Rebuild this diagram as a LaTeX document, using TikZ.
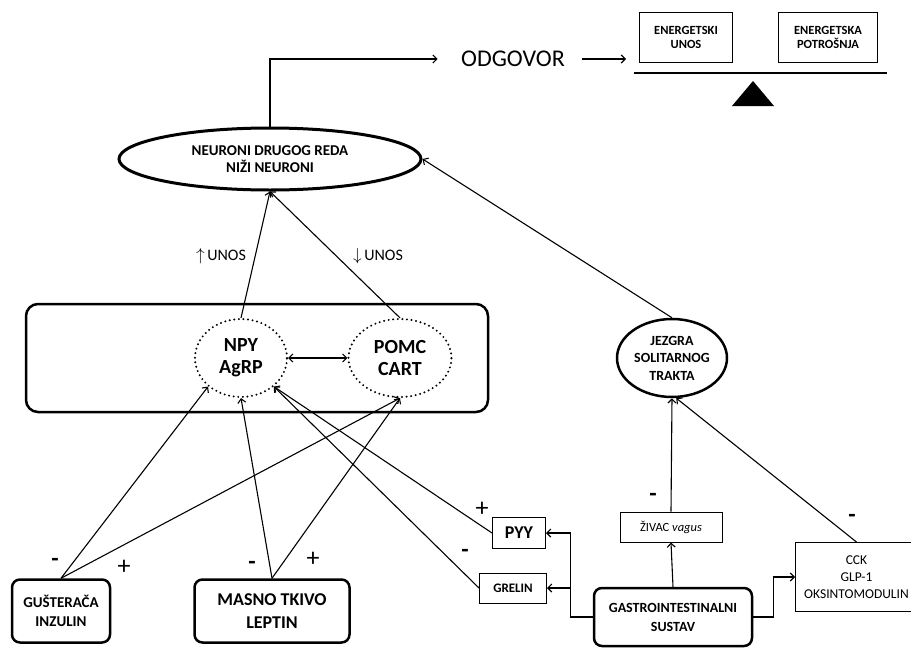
\documentclass[tikz,border=0pt]{standalone}
\usepackage{fontspec}
\setmainfont{Carlito}
\usetikzlibrary{shapes.geometric,arrows.meta}

\begin{document}
\begin{tikzpicture}[x=1pt, y=1pt,
  arr/.style={-{Straight Barb[length=4pt,width=8pt]}, line width=1.1pt},
  oval/.style={ellipse, draw, line width=2.5pt, inner sep=0pt, align=center},
  dotoval/.style={ellipse, draw, line width=2.2pt, dash pattern=on 0pt off 4.6pt, line cap=round, inner sep=0pt, align=center},
  thinbox/.style={rectangle, draw, line width=1pt, inner sep=1pt, align=center},
  thickbox/.style={rectangle, draw, rounded corners=8pt, line width=2.5pt, align=center},
  plus/.style={font=\fontsize{26}{26}\selectfont},
  minus/.style={font=\fontsize{24}{24}\selectfont\bfseries}]
\useasboundingbox (0,0) rectangle (911,-648);

% output and balance
\node[oval, line width=3pt, minimum width=302, minimum height=62, font=\fontsize{15}{17}\selectfont\bfseries] (neur) at (270,-159) {NEURONI DRUGOG REDA\\NIŽI NEURONI};
\node[font=\fontsize{24}{24}\selectfont] (odg) at (513,-59) {ODGOVOR};
\coordinate (bal) at (626,-59);
\node[thinbox, minimum width=93, minimum height=50, font=\fontsize{12.5}{14}\selectfont\bfseries] (unos) at (686,-37) {ENERGETSKI\\UNOS};
\node[thinbox, minimum width=99, minimum height=50, font=\fontsize{12.5}{14}\selectfont\bfseries] (potr) at (828,-37) {ENERGETSKA\\POTROŠNJA};
\draw[line width=1.6pt] (634,-73) -- (887,-73);
\fill (753,-81) -- (774,-106) -- (732,-106) -- cycle;

\draw[arr] (neur.north) |- ([xshift=-20pt]odg.west);
\draw[arr] ([xshift=14pt]odg.east) -- (bal);

% hypothalamus
\node[draw, rounded corners=12pt, line width=2.5pt, minimum width=462, minimum height=108] (hyp) at (257,-358) {};
\node[dotoval, minimum width=92, minimum height=78, font=\fontsize{20}{22}\selectfont\bfseries] (npy) at (241,-358) {NPY\\AgRP};
\node[dotoval, minimum width=103, minimum height=78, font=\fontsize{20}{22}\selectfont\bfseries] (pomc) at (400,-358) {POMC\\CART};
\draw[arr, {Straight Barb[length=4pt,width=8pt]}-{Straight Barb[length=4pt,width=8pt]}] (npy) -- (pomc);

\draw[arr] (npy.north) -- (neur.south);
\draw[arr] (pomc.north) -- (neur.south);
\node[font=\fontsize{16}{16}\selectfont] (up) at (221,-256) {$\uparrow$\,UNOS};
\node[font=\fontsize{16}{16}\selectfont] (down) at (378,-256) {$\downarrow$\,UNOS};

% brainstem
\node[oval, minimum width=110, minimum height=78, font=\fontsize{14}{17.5}\selectfont\bfseries] (jez) at (672,-358) {JEZGRA\\SOLITARNOG\\TRAKTA};
\draw[arr] (jez.north) -- (neur.east);

% periphery
\node[thickbox, minimum width=98, minimum height=63, font=\fontsize{15}{19}\selectfont\bfseries] (gus) at (61,-611) {GUŠTERAČA\\INZULIN};
\node[thickbox, minimum width=155, minimum height=63, font=\fontsize{18}{23}\selectfont\bfseries] (masno) at (272,-611) {MASNO TKIVO\\LEPTIN};
\node[thickbox, minimum width=158, minimum height=58, font=\fontsize{14}{19}\selectfont\bfseries] (gi) at (673,-617) {GASTROINTESTINALNI\\SUSTAV};
\node[thinbox, minimum width=53, minimum height=31, font=\fontsize{18}{18}\selectfont\bfseries] (pyy) at (519,-533) {PYY};
\node[thinbox, minimum width=67, minimum height=30, font=\fontsize{13}{13}\selectfont\bfseries] (grelin) at (513,-588) {GRELIN};
\node[thinbox, minimum width=102, minimum height=30, font=\fontsize{12.5}{12.5}\selectfont] (zivac) at (671,-527) {ŽIVAC \textit{vagus}};
\node[thinbox, anchor=west, minimum width=122, minimum height=69, font=\fontsize{13.5}{17}\selectfont] (cck) at (795,-577) {CCK\\GLP-1\\OKSINTOMODULIN};

\draw[arr] (gus.north) -- (npy.-139);
\draw[arr] (gus.north) -- (pomc.south);
\draw[arr] (masno.north) -- (npy.south);
\draw[arr] (masno.north) -- (pomc.south);
\draw[arr] (pyy.west) -- (npy.-41);
\draw[arr] (grelin.west) -- (npy.-41);

\coordinate (gij) at ([xshift=-22pt]gi.west);
\draw[arr] (gi.west) -- (gij) |- (pyy.east);
\draw[arr] (gij) |- (grelin.east);
\draw[arr] (gi.east) -- ++(20,0) |- (cck.west);
\draw[arr] (gi.north) -- (zivac.south);
\draw[arr] (zivac.north) -- (jez.south);
\draw[arr] (cck.north) -- (jez.-84);

% signs
\node[minus] (s1) at (55,-562) {-};
\node[plus] (s2) at (124,-567) {+};
\node[minus] (s3) at (252,-565) {-};
\node[plus] (s4) at (313,-559) {+};
\node[plus] (s5) at (482,-509) {+};
\node[minus] (s6) at (465,-553) {-};
\node[minus] (s7) at (653,-497) {-};
\node[minus] (s8) at (852,-518) {-};
\end{tikzpicture}
\end{document}
